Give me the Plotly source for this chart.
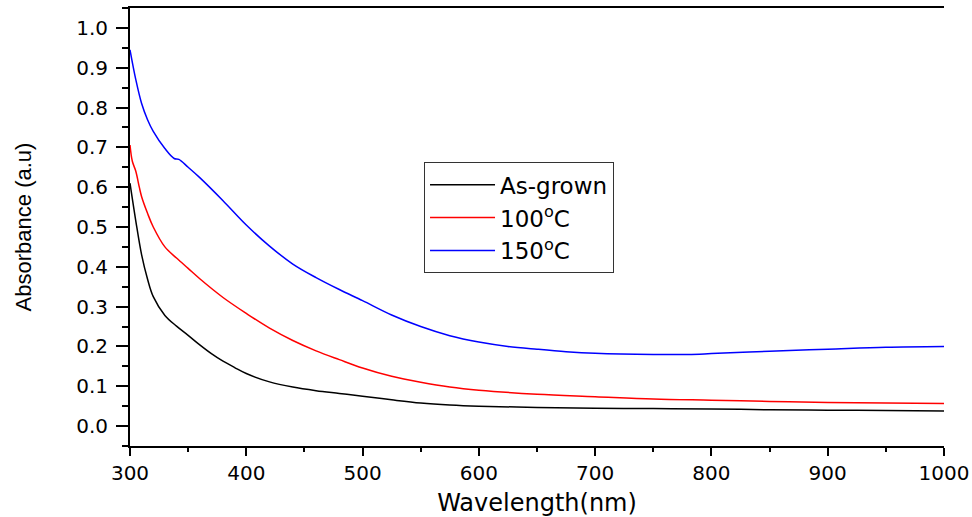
import plotly.graph_objects as go

# ---- data ----
wl_asgrown = [300, 305, 310, 315, 320, 330, 340, 350, 360, 370, 380, 390, 400, 420, 440,
              460, 480, 500, 525, 550, 575, 600, 650, 700, 750, 800, 850, 900, 950, 1000]
abs_asgrown = [0.610, 0.515, 0.430, 0.370, 0.325, 0.278, 0.251, 0.228, 0.204, 0.182, 0.163,
               0.147, 0.132, 0.111, 0.098, 0.089, 0.082, 0.075, 0.066, 0.058, 0.053, 0.050,
               0.047, 0.045, 0.044, 0.043, 0.041, 0.040, 0.039, 0.038]

wl_100 = [300, 302, 305, 308, 310, 315, 320, 330, 340, 350, 360, 380, 400, 420, 440, 460,
          480, 500, 525, 550, 575, 600, 650, 700, 750, 800, 850, 900, 950, 1000]
abs_100 = [0.706, 0.665, 0.640, 0.600, 0.576, 0.535, 0.500, 0.450, 0.422, 0.396, 0.370,
           0.323, 0.283, 0.246, 0.215, 0.189, 0.167, 0.146, 0.125, 0.110, 0.098, 0.090,
           0.080, 0.074, 0.068, 0.065, 0.062, 0.059, 0.058, 0.057]

wl_150 = [300, 305, 310, 315, 320, 330, 338, 342, 350, 360, 380, 400, 420, 440, 460, 480,
          500, 525, 550, 575, 600, 625, 650, 675, 700, 750, 780, 800, 850, 900, 950, 1000]
abs_150 = [0.945, 0.870, 0.810, 0.770, 0.740, 0.697, 0.672, 0.670, 0.650, 0.624, 0.566,
           0.505, 0.452, 0.407, 0.373, 0.343, 0.315, 0.279, 0.250, 0.227, 0.211, 0.200,
           0.193, 0.187, 0.183, 0.180, 0.180, 0.182, 0.188, 0.193, 0.198, 0.200]

names = ["As-grown", "100<sup>o</sup>C", "150<sup>o</sup>C"]
colors = ["#000000", "#FF0000", "#0000FF"]

TICK_FONT = dict(family="DejaVu Sans", size=20, color="#000000")

fig = go.Figure()
for x, y, n, c in [(wl_asgrown, abs_asgrown, names[0], colors[0]),
                   (wl_100, abs_100, names[1], colors[1]),
                   (wl_150, abs_150, names[2], colors[2])]:
    fig.add_trace(go.Scatter(x=x, y=y, name=n, mode="lines",
                             line=dict(color=c, width=1.5, shape="spline", smoothing=1.0)))

fig.update_layout(
    width=972, height=517,
    margin=dict(l=130, r=28, t=8, b=71),
    paper_bgcolor="white", plot_bgcolor="white",
    showlegend=True,
    legend=dict(x=0.3612, y=0.648, xanchor="left", yanchor="top",
                bgcolor="white", bordercolor="#333333", borderwidth=1,
                font=dict(family="DejaVu Sans", size=23, color="#000000"),
                itemwidth=65, tracegroupgap=0),
    xaxis=dict(range=[300, 1000], dtick=100, tick0=300, automargin=False,
               showgrid=False, zeroline=False,
               showline=True, linecolor="black", linewidth=2, mirror=True,
               ticks="outside", ticklen=8, tickwidth=2, tickcolor="black",
               minor=dict(dtick=50, ticks="outside", ticklen=4, tickwidth=2, tickcolor="black"),
               tickfont=TICK_FONT,
               title=dict(text="Wavelength(nm)", standoff=12,
                          font=dict(family="DejaVu Sans", size=24, color="#000000"))),
    yaxis=dict(range=[-0.05, 1.05], dtick=0.1, tick0=0, tickformat=".1f", automargin=False,
               showgrid=False, zeroline=False,
               showline=True, linecolor="black", linewidth=2,
               ticks="outside", ticklen=12, tickwidth=2, tickcolor="black",
               minor=dict(dtick=0.05, ticks="outside", ticklen=6, tickwidth=2, tickcolor="black"),
               tickfont=TICK_FONT, ticklabelstandoff=4,
               title=dict(text="Absorbance (a.u)", standoff=38,
                          font=dict(family="Liberation Sans", size=22, color="#000000"))),
    yaxis2=dict(overlaying="y", side="right", anchor="x", range=[0, 1], automargin=False,
                dtick=0.2, tick0=0, showticklabels=False,
                showgrid=False, zeroline=False,
                showline=True, linecolor="black", linewidth=2,
                ticks="inside", ticklen=11, tickwidth=2, tickcolor="black",
                minor=dict(dtick=0.1, ticks="inside", ticklen=6, tickwidth=2, tickcolor="black")),
)

fig.write_html("out.html")
